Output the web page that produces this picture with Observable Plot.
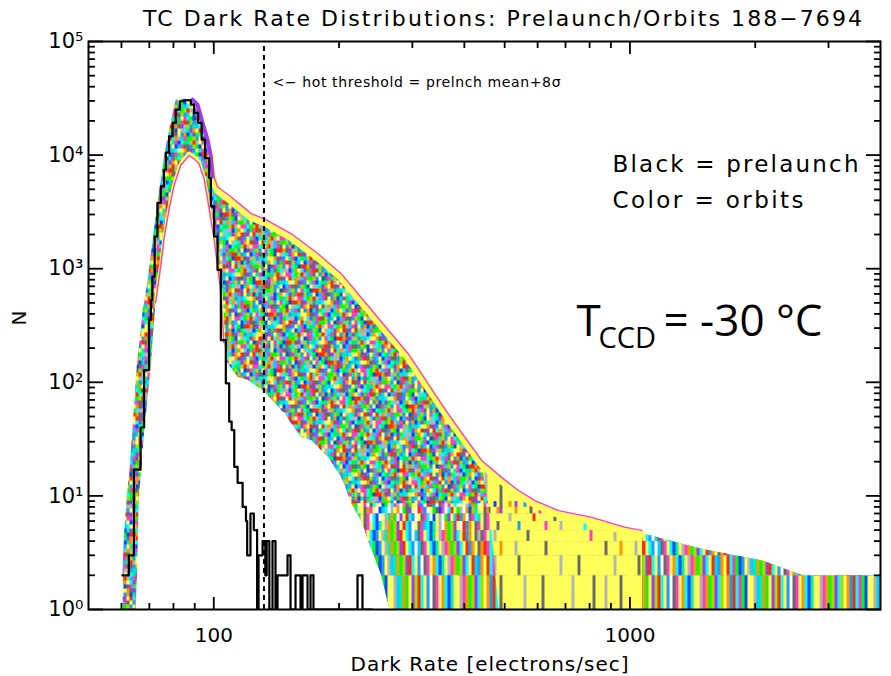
<!DOCTYPE html>
<html><head><meta charset="utf-8">
<script src="https://cdn.jsdelivr.net/npm/d3@7"></script>
<script src="https://cdn.jsdelivr.net/npm/@observablehq/plot@0.6"></script>
<style>body{margin:0;background:#fff}</style>
</head><body><div id="chart"></div>
<script>
// ---------- data ----------
// Prelaunch histogram (black): bin left edge [electrons/sec] and count
const blackX = [60.3, 62.5, 64.3, 66.7, 68.0, 69.9, 70.6, 71.2, 72.1, 73.2, 74.6, 75.9, 76.7, 78.1, 79.6, 81.0, 82.9, 84.6, 88.1, 89.7, 91.7, 93.5, 95.3, 97.5, 98.4, 100.2, 102.1, 104.0, 106.9, 108.9, 110.4, 112.0, 114.1, 117.3, 119.5, 120.3, 122.5, 124.8, 127.1, 128.1, 131.0, 133.0, 134.0, 136.0, 138.4, 140.7, 142.3, 150.4, 152.9, 157.2, 161.6, 163.4, 168.0, 170.8, 173.6, 221.5, 227.7, 240];
const blackN = [2, 3, 17, 40, 128, 354, 530, 850, 1920, 3800, 5300, 7430, 10500, 14600, 19300, 25100, 29800, 30400, 27800, 23500, 19200, 13700, 9420, 6280, 3530, 1920, 975, 235, 98, 45, 38, 18, 13, 8, 6, 3, 7, 5, 1, 3, 4, 2, 4, 1, 4, 1, 2, 3, 1, 2, 1, 2, 1, 2, 1, 2, 1, 1];

// Orbit histograms: upper envelope of all orbits
const upperX = [60.4, 60.4, 60.9, 61.7, 62.8, 63.8, 65.3, 67.5, 69.2, 70.5, 71.8, 73.2, 74.6, 75.9, 78.1, 80.3, 81.0, 84.7, 88.9, 91.4, 94.0, 96.6, 98.4, 99.4, 102.1, 109.9, 116.2, 122.9, 132.3, 153.3, 177.8, 202.4, 222.1, 243.5, 267.2, 293.1, 315.5, 339.6, 365.8, 401.1, 440.2, 491.8, 539.5, 591.5, 673.5, 810.2, 974.7, 1069, 1492, 2082, 2598, 4000];
const upperN = [1, 2.4, 4.7, 9.2, 18, 40, 139, 433, 745, 1279, 2199, 3782, 6067, 9746, 16750, 26880, 30800, 31300, 30800, 27800, 19190, 13680, 9746, 6490, 4955, 4044, 3414, 2879, 2587, 1919, 1279, 851, 567, 378, 252, 168, 112, 74.5, 49.6, 30.9, 19.3, 13.7, 10.5, 8.55, 6.98, 6.09, 4.97, 4.68, 3.4, 2.7, 2.0, 2.0];

// Orbit histograms: lower envelope of all orbits
const lowerX = [64.9, 65.4, 66.0, 68.0, 70.5, 72.5, 74.6, 75.9, 78.1, 80.3, 83.3, 87.2, 89.7, 92.2, 94.8, 96.6, 98.4, 100.2, 102.1, 104.0, 105.7, 107.9, 114.1, 120.8, 132.0, 147.6, 162.1, 171.4, 188.0, 202.4, 213.9, 226.1, 234.7, 243.5, 252.6, 264.3];
const lowerN = [1, 2.08, 9.15, 35.7, 137, 531, 1125, 1919, 3530, 5710, 8570, 10430, 9746, 8790, 6490, 4325, 2879, 1919, 1118, 650, 235, 148, 112, 105, 83.6, 53.5, 32.9, 30.9, 22.0, 14.7, 8.6, 6.09, 4.06, 2.89, 2.0, 1];

// Region dominated by the yellow (latest) orbits in the tail: left/right boundary
const yellowEdgeX = [1069, 1069, 483.6, 462.0, 440.2];
const yellowEdgeN = [4.68, 1, 1, 6.0, 19.3];

const threshold = [132];   // hot threshold = prelaunch mean + 8 sigma

// ticks
const xMajor = [100, 1000];
const xMinor = [60, 70, 80, 90, 200, 300, 400, 500, 600, 700, 800, 900, 2000, 3000];
const yMajor = [1, 10, 100, 1000, 10000, 100000];
const yLabels = ["10⁰", "10¹", "10²", "10³", "10⁴", "10⁵"];
const yMinor = [2,3,4,5,6,7,8,9, 20,30,40,50,60,70,80,90, 200,300,400,500,600,700,800,900, 2000,3000,4000,5000,6000,7000,8000,9000, 20000,30000,40000,50000,60000,70000,80000,90000];
const tailLevels = [9, 8, 7, 6, 5, 4, 3, 2, 1];

// ---------- styles ----------
const palette = {y:"#ffff5a", m:"#ff3cc8", c:"#00ffff", g:"#00ff00", s:"#00f0a0", b:"#0a46ff", r:"#ff2a00", o:"#ff9600", k:"#6a6a6a", l:"#b4b4b4", p:"#a03cf0", v:"#a8dc00", a:"#1e9bff", e:"#00d2ff", w:"#ffffff"};
// colour sequence of the overlapping orbit histograms (texture) and irregular row shifts
const mosaicSeq = "ymcgbrrokplvasecyyokpaysmbcgevrlymmcgvrlemkyaobspgcllbsoycpgmrkvaeybemkkavgbylcspoyrkpyrcolemggvaybkmsva";
const mosaicShift = [0, 53, 17, 88, 31, 70, 9, 61, 42, 95, 24, 77, 5, 66, 38, 12, 84, 47, 20, 59, 91, 28, 73, 35, 101, 14, 57, 80, 3, 44];
const tailRows = [
 "ymwkcywbgwcmlwopgyypawrkawkmwmycwywlaogw",
 "ykomywbecwlyowgkpywrmawygkbmwcryglwobvsy",
 "ykmwcbwylsogwpyrcawykmcwbylwgpyeraowkmcs",
 "ykmycbsylogvpyrcawykmecbsylwogvpywraoykm",
 "kmycbaylsogvprycawekmycbsylmogvpcyraoykl",
 "ormcgbaylsogvprycawekmycbsylmogvpcyraoyk",
 "oyrcmgbaylesogvprcyawkmyocbsylmogvpcyrea",
 "vyoarcmgbyylesogypvrcyawkmyocbsyylmogvpc"];
const yellowRows = [
 "ymyybykyyoypyyaymyyryycyyykymybyyyplyyyc",
 "yykyyopyyyyoyyyykyymyyyyybyyayyyylyyyyly",
 "ymyyyyyyylyyyyyyyryyyyyykyyyyypyyyyyyyyy",
 "yyyyykyyyyyyayyyyyyyymyyyylyyyyyyycyyyyy",
 "yyyylyyyyyyyyyykyyyyyyyyyyyyyyyyyyyymyyy",
 "ykyyyyoyyyylyyyyyyyyykyyyyyyyyyyyyyyyyyy",
 "yyyylyyyyyyykyyyyyyyyyyyyylyyyyykyyyyyyy",
 "ylyyyykyyyyyyylyyyyykyyyyyyyyylyyyyyykyy"];

const pts = (xs, ns) => xs.map((x, i) => ({x, n: ns[i]}));
const upper = pts(upperX, upperN);
const lower = pts(lowerX, lowerN);
const black = pts(blackX, blackN);
const mainBand = [...upper, {x: 4000, n: 1}, ...lower.slice().reverse()];
const lowTail = lower.filter(d => d.x >= 213.9);
const upTail = upper.filter(d => d.x >= 591.5).reverse();
const tailBand = [...lowTail, {x: 4000, n: 1}, ...upTail];
const yellowBand = [...upper.filter(d => d.x >= 440.2 && d.x <= 1069), ...pts(yellowEdgeX, yellowEdgeN)];
const upperEdge = upper.filter(d => d.x >= 98.4 && d.x <= 1069);
const shoulder = upper.filter(d => d.x >= 88.9 && d.x <= 99.4);
const lowerEdge = lower.filter(d => d.x >= 72.5 && d.x <= 105.7);

const FONT = "DejaVu Sans";
const tickOpts = {strokeWidth: 1.8, label: null};

const plot = Plot.plot({
  width: 891, height: 676,
  marginLeft: 88, marginRight: 11, marginTop: 41, marginBottom: 67,
  x: {type: "log", domain: [50, 4000], label: null},
  y: {type: "log", domain: [1, 1e5], label: null},
  style: {fontFamily: FONT, background: "white", color: "black", overflow: "visible"},
  marks: [
    Plot.line(mainBand, {x: "x", y: "n", fill: "url(#mosaic)", stroke: "none", clip: true}),
    Plot.line(tailBand, {x: "x", y: "n", fill: "url(#tail)", stroke: "none", clip: true}),
    Plot.line(yellowBand, {x: "x", y: "n", fill: "url(#yellowp)", stroke: "none", clip: true}),
    Plot.line(upperEdge, {x: "x", y: "n", stroke: palette.y, strokeWidth: 7, dy: 1}),
    Plot.line(upperEdge, {x: "x", y: "n", stroke: palette.m, strokeWidth: 1.4, dy: -3}),
    Plot.line(shoulder, {x: "x", y: "n", stroke: palette.p, strokeWidth: 4}),
    Plot.line(lowerEdge, {x: "x", y: "n", stroke: palette.y, strokeWidth: 3}),
    Plot.line(lowerEdge, {x: "x", y: "n", stroke: palette.m, strokeWidth: 1.4, dy: 2.5}),
    Plot.line(black, {x: "x", y: "n", curve: "step-after", stroke: "black", strokeWidth: 2.2, clip: true}),
    Plot.ruleX(threshold, {x: d => d, y1: 1, y2: 1e5, stroke: "black", strokeWidth: 2, strokeDasharray: "5,4"}),

    Plot.axisX({anchor: "bottom", ticks: xMajor, tickSize: -12, tickPadding: 30, tickFormat: d => String(d), fontSize: 20, ...tickOpts}),
    Plot.axisX({anchor: "bottom", ticks: xMinor, tickSize: -6, tickFormat: () => "", ...tickOpts}),
    Plot.axisX({anchor: "top", ticks: xMajor, tickSize: -12, tickFormat: () => "", ...tickOpts}),
    Plot.axisX({anchor: "top", ticks: xMinor, tickSize: -6, tickFormat: () => "", ...tickOpts}),
    Plot.axisY({anchor: "left", ticks: yMajor, tickSize: -15, tickPadding: 20, tickFormat: d => yLabels[yMajor.indexOf(d)], fontSize: 21, ...tickOpts}),
    Plot.axisY({anchor: "left", ticks: yMinor, tickSize: -7, tickFormat: () => "", ...tickOpts}),
    Plot.axisY({anchor: "right", ticks: yMajor, tickSize: -15, tickFormat: () => "", ...tickOpts}),
    Plot.axisY({anchor: "right", ticks: yMinor, tickSize: -7, tickFormat: () => "", ...tickOpts}),
    Plot.frame({stroke: "black", strokeWidth: 2}),

    Plot.text(["TC Dark Rate Distributions: Prelaunch/Orbits 188−7694"], {frameAnchor: "top", dx: 18, dy: -16, lineAnchor: "bottom", fontSize: 22, fontFamily: FONT}),
    Plot.text(["Dark Rate [electrons/sec]"], {frameAnchor: "bottom", dx: 5, dy: 61, lineAnchor: "bottom", fontSize: 20, fontFamily: FONT}),
    Plot.text(["N"], {frameAnchor: "left", dx: -69, rotate: -90, fontSize: 20, fontFamily: FONT}),
    Plot.text(["<− hot threshold = prelnch mean+8σ"], {x: 138.4, y: 40000, textAnchor: "start", lineAnchor: "bottom", fontSize: 14, fontFamily: FONT}),
    Plot.text(["Black = prelaunch"], {x: 908, y: 7030, textAnchor: "start", lineAnchor: "bottom", fontSize: 23, fontFamily: FONT}),
    Plot.text(["Color = orbits"], {x: 908, y: 3388, textAnchor: "start", lineAnchor: "bottom", fontSize: 23, fontFamily: FONT}),
    Plot.text(["T"], {x: 744, y: 258, textAnchor: "start", lineAnchor: "bottom", fontSize: 44, fontFamily: "Open Sans"}),
    Plot.text(["CCD"], {x: 744, y: 258, dx: 22, dy: 12, textAnchor: "start", lineAnchor: "bottom", fontSize: 29, fontFamily: "Open Sans"}),
    Plot.text(["= -30 °C"], {x: 744, y: 258, dx: 87, textAnchor: "start", lineAnchor: "bottom", fontSize: 44, fontFamily: "Open Sans"})
  ]
});

// ---------- fill patterns (texture of the overlapping orbit histograms) ----------
const NS = "http://www.w3.org/2000/svg";
const defs = document.createElementNS(NS, "defs");
function pattern(id, rows, cw, rowTops, rowH, x0, y0, tileH) {
  const p = document.createElementNS(NS, "pattern");
  p.setAttribute("id", id);
  p.setAttribute("patternUnits", "userSpaceOnUse");
  p.setAttribute("x", x0); p.setAttribute("y", y0);
  p.setAttribute("width", rows[0].length * cw); p.setAttribute("height", tileH);
  rows.forEach((row, j) => {
    [...row].forEach((ch, i) => {
      const r = document.createElementNS(NS, "rect");
      r.setAttribute("x", i * cw); r.setAttribute("y", rowTops[j]);
      r.setAttribute("width", cw + 0.05); r.setAttribute("height", rowH[j] + 0.05);
      r.setAttribute("fill", palette[ch]);
      p.appendChild(r);
    });
  });
  defs.appendChild(p);
}
// mosaic: each row is the colour sequence read from an irregular starting shift
const L = mosaicSeq.length, ch = 4;
const mRows = mosaicShift.map(sh => [...mosaicSeq].map((_, i) => mosaicSeq[(i + sh) % L]).join(""));
pattern("mosaic", mRows, 3, mRows.map((_, j) => j * ch), mRows.map(() => ch), 0, 0, mRows.length * ch);
const ys = plot.scale("y");
const lv = tailLevels.map(n => ys.apply(n));
const tops = lv.slice(0, -1).map(v => v - lv[0]);
const hs = lv.slice(1).map((v, i) => v - lv[i]);
const tileH = lv[lv.length - 1] - lv[0];
pattern("tail", tailRows, 3, tops, hs, 0, lv[0], tileH);
pattern("yellowp", yellowRows, 3, tops, hs, 1, lv[0], tileH);
plot.insertBefore(defs, plot.firstChild);

// stretch texts to the reference widths
const widths = {"TC Dark Rate Distributions: Prelaunch/Orbits 188−7694": 719, "Dark Rate [electrons/sec]": 278, "<− hot threshold = prelnch mean+8σ": 288, "Black = prelaunch": 246, "Color = orbits": 191};
plot.querySelectorAll("text").forEach(t => {
  const w = widths[t.textContent];
  if (w) { t.setAttribute("textLength", w); t.setAttribute("lengthAdjust", "spacing"); }
});
document.getElementById("chart").appendChild(plot);
</script>
</body></html>
